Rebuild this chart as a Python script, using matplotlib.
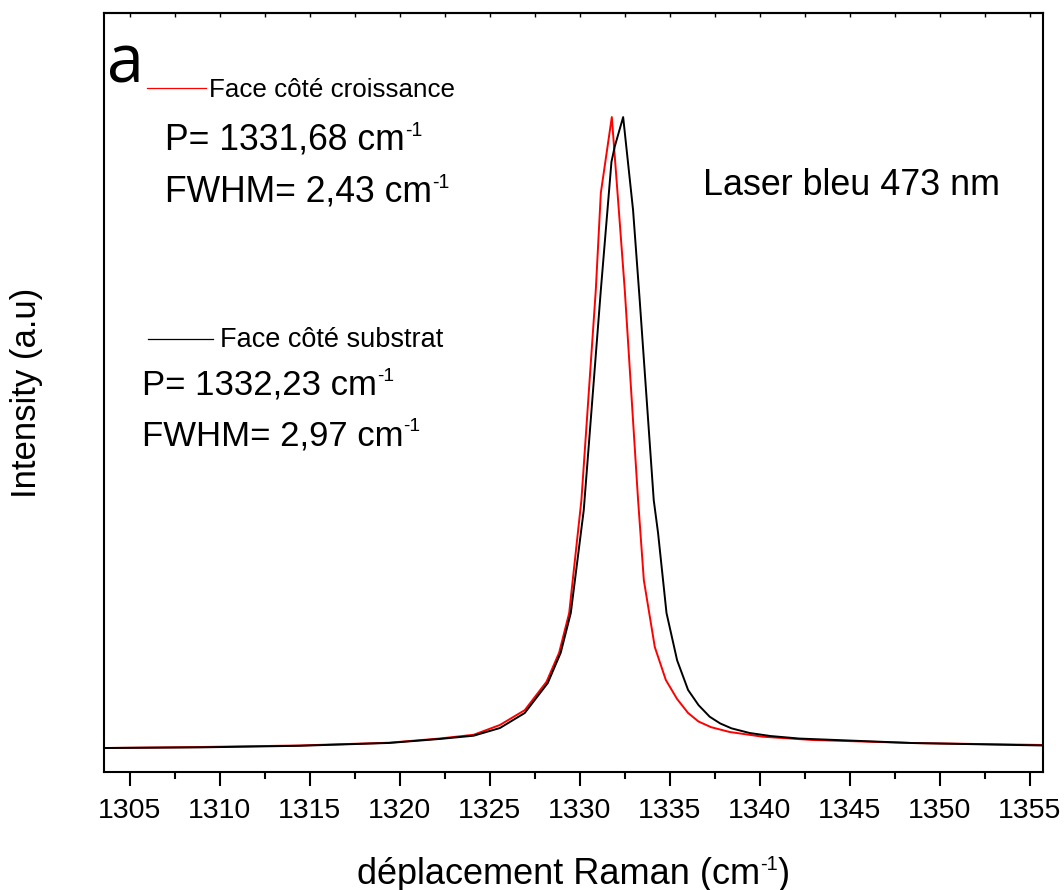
"""
Raman spectra of the diamond line, growth side vs substrate side (blue laser 473 nm).
"""

import matplotlib

matplotlib.use("Agg")
import matplotlib.pyplot as plt
from matplotlib.ticker import MultipleLocator

plt.rcParams["font.family"] = ["Liberation Sans", "DejaVu Sans"]

# red: face côté croissance (growth side)
shift_growth = [1303.56, 1308.9, 1314.4, 1319.4, 1322.2, 1324.1, 1325.56, 1326.94,
                1328.15, 1328.85, 1329.41, 1330.09, 1330.89, 1331.17, 1331.78,
                1332.15, 1332.5, 1333.24, 1333.56, 1334.17, 1334.78, 1335.4,
                1336.02, 1336.6, 1337.3, 1338.33, 1340.17, 1342.94, 1348.5, 1355.75]
int_growth = [0.0, 0.0016, 0.004, 0.0084, 0.015, 0.021, 0.0365, 0.060,
              0.105, 0.151, 0.214, 0.393, 0.726, 0.880, 1.0,
              0.86, 0.726, 0.393, 0.266, 0.160, 0.108, 0.078,
              0.0555, 0.042, 0.033, 0.0254, 0.0179, 0.0127, 0.0079, 0.0048]

# black: face côté substrat (substrate side)
shift_substrate = [1303.56, 1308.9, 1314.4, 1319.4, 1322.2, 1324.1, 1325.56, 1326.94,
                   1328.22, 1328.94, 1329.5, 1330.22, 1331.17, 1331.76, 1331.94,
                   1332.41, 1332.96, 1333.33, 1334.11, 1334.35, 1334.82, 1335.41,
                   1336.02, 1336.6, 1337.22, 1337.8, 1338.43, 1339.44, 1340.6,
                   1342.2, 1348.5, 1355.75]
int_substrate = [0.0, 0.001, 0.0035, 0.008, 0.0143, 0.0195, 0.0317, 0.0555,
                 0.103, 0.151, 0.214, 0.377, 0.726, 0.929, 0.953,
                 1.0, 0.853, 0.710, 0.393, 0.341, 0.214, 0.139,
                 0.092, 0.068, 0.0496, 0.039, 0.0312, 0.0238, 0.019,
                 0.015, 0.0079, 0.004]

fig = plt.figure(figsize=(10.64, 8.90), dpi=100)
ax = fig.add_axes([0.0977, 0.1326, 0.8826, 0.8528])

ax.plot(shift_growth, int_growth, color="#ff0000", linewidth=1.4)
ax.plot(shift_substrate, int_substrate, color="black", linewidth=1.4)

ax.set_xlim(1303.55, 1355.75)
ax.set_ylim(-0.038, 1.165)

for side in ax.spines.values():
    side.set_linewidth(1.5)

ax.xaxis.set_major_locator(MultipleLocator(5))
ax.xaxis.set_minor_locator(MultipleLocator(2.5))
ax.tick_params(axis="x", which="major", direction="out", length=10, width=1.5,
               labelsize=20.5, pad=9)
ax.tick_params(axis="x", which="minor", direction="out", length=5, width=1.5)
ax.set_yticks([])

top = ax.secondary_xaxis("top")
top.xaxis.set_major_locator(MultipleLocator(2.5))
top.tick_params(axis="x", which="major", direction="in", length=3, width=1.0,
                labeltop=False)
top.spines["top"].set_linewidth(1.5)


def with_sup(x, y, main, size, transform, tail=""):
    """Text followed by a raised '-1' (and optional closing text on the baseline)."""
    t = fig.text(x, y, main, fontsize=size, ha="left", va="baseline",
                 transform=transform)
    s = ax.annotate("-1", xy=(1.0, 0.78), xycoords=t, fontsize=size * 0.55,
                    ha="left", va="center", annotation_clip=False)
    if tail:
        ax.annotate(tail, xy=(1.0, 0.0), xycoords=(s, t), fontsize=size,
                    ha="left", va="bottom", annotation_clip=False)
    return t


# axis titles
with_sup(357 / 1064, 6 / 890, "déplacement Raman (cm", 26, fig.transFigure, tail=")")
fig.text(27 / 1064, 1 - 392.5 / 890, "Intensity (a.u)", fontsize=25,
         rotation=90, ha="center", va="center")

ax.text(0.003, 0.908, "a", transform=ax.transAxes, fontsize=48,
        family=["Open Sans", "DejaVu Sans"], ha="left", va="baseline")

# growth side annotation
ax.plot([0.0454, 0.1086], [0.9008, 0.9008], transform=ax.transAxes,
        color="#ff0000", linewidth=0.9)
ax.text(0.1118, 0.8897, "Face côté croissance", transform=ax.transAxes,
        fontsize=18.7, ha="left", va="baseline")
with_sup(0.065, 0.8195, "P= 1331,68 cm", 25.6, ax.transAxes)
with_sup(0.065, 0.7514, "FWHM= 2,43 cm", 25.6, ax.transAxes)

# substrate side annotation
ax.plot([0.0469, 0.1161], [0.5705, 0.5705], transform=ax.transAxes,
        color="black", linewidth=0.9)
ax.text(0.1235, 0.5603, "Face côté substrat", transform=ax.transAxes,
        fontsize=19.5, ha="left", va="baseline")
with_sup(0.0405, 0.4967, "P= 1332,23 cm", 25, ax.transAxes)
with_sup(0.0405, 0.4308, "FWHM= 2,97 cm", 25, ax.transAxes)

ax.text(0.638, 0.760, "Laser bleu 473 nm", transform=ax.transAxes,
        fontsize=25.8, ha="left", va="baseline")

fig.savefig("out.png", dpi=100)
